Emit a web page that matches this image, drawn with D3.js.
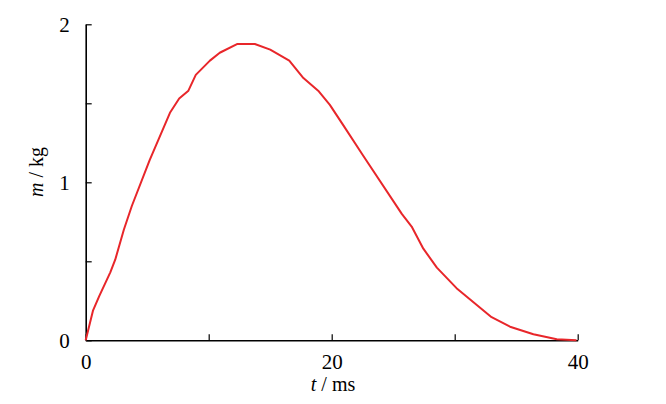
<!DOCTYPE html>
<html>
<head>
<meta charset="utf-8">
<script src="https://cdn.jsdelivr.net/npm/d3@7"></script>
<style>
  body { margin: 0; background: #fff; }
</style>
</head>
<body>
<svg id="chart" width="666" height="404"></svg>
<script>
// time in ms, mass in kg
var tValues = [0, 0.6, 1.1, 2.0, 2.4, 3.1, 3.75, 5.2, 6.85, 7.6, 8.35, 8.95, 10.1, 10.9,
  12.3, 13.75, 15.0, 16.55, 17.7, 18.9, 19.85, 20.95, 22.55, 25.7, 26.5, 27.45, 28.55,
  30.15, 33.0, 34.5, 36.4, 38.3, 39.9];
var mValues = [0, 0.19, 0.28, 0.43, 0.51, 0.70, 0.85, 1.14, 1.44, 1.53, 1.58, 1.68, 1.77, 1.82,
  1.875, 1.875, 1.84, 1.77, 1.66, 1.58, 1.49, 1.36, 1.17, 0.80, 0.72, 0.58, 0.46,
  0.33, 0.146, 0.086, 0.038, 0.006, 0];
var xTicks = [0, 10, 20, 30, 40];
var yTicks = [0, 0.5, 1, 1.5, 2];
var xLabelled = [0, 20, 40];
var yLabelled = [0, 1, 2];

var serif = '"Liberation Serif", "Times New Roman", serif';

renderChart();

function renderChart(){
  var svg = d3.select('#chart');
  var left = 85.7, right = 577.7, top = 24.3, bottom = 340.3;

  var x = d3.scaleLinear().domain([0, 40]).range([left, right]);
  var y = d3.scaleLinear().domain([0, 2]).range([bottom, top]);

  var xAxis = d3.axisBottom(x)
    .tickValues(xTicks)
    .tickSizeInner(-6)
    .tickSizeOuter(0)
    .tickPadding(14)
    .tickFormat(d => xLabelled.indexOf(d) >= 0 ? d : '');

  var yAxis = d3.axisLeft(y)
    .tickValues(yTicks)
    .tickSizeInner(-6)
    .tickSizeOuter(0)
    .tickPadding(16)
    .tickFormat(d => yLabelled.indexOf(d) >= 0 ? d : '');

  var gx = svg.append('g')
    .attr('transform', 'translate(0,' + bottom + ')')
    .call(xAxis);
  var gy = svg.append('g')
    .attr('transform', 'translate(' + left + ',0)')
    .call(yAxis);

  [gx, gy].forEach(function(g){
    g.select('.domain').attr('stroke', '#000').attr('stroke-width', 1.6);
    g.selectAll('.tick line').attr('stroke', '#000').attr('stroke-width', 1.2);
    g.selectAll('.tick text')
      .attr('fill', '#000')
      .style('font-family', serif)
      .style('font-size', '21px');
  });

  // axis titles
  var xt = svg.append('text')
    .attr('x', 333)
    .attr('y', 391)
    .attr('text-anchor', 'middle')
    .style('font-family', serif)
    .style('font-size', '20px');
  xt.append('tspan').style('font-style', 'italic').text('t');
  xt.append('tspan').text(' / ms');

  var yt = svg.append('text')
    .attr('transform', 'translate(43,172) rotate(-90)')
    .attr('text-anchor', 'middle')
    .style('font-family', serif)
    .style('font-size', '20px');
  yt.append('tspan').style('font-style', 'italic').text('m');
  yt.append('tspan').text(' / kg');

  var line = d3.line()
    .x((d, i) => x(tValues[i]))
    .y((d, i) => y(mValues[i]));

  svg.append('path')
    .datum(mValues)
    .attr('d', line)
    .attr('fill', 'none')
    .attr('stroke', '#e8262a')
    .attr('stroke-width', 2)
    .attr('stroke-linejoin', 'round');
}
</script>
</body>
</html>
